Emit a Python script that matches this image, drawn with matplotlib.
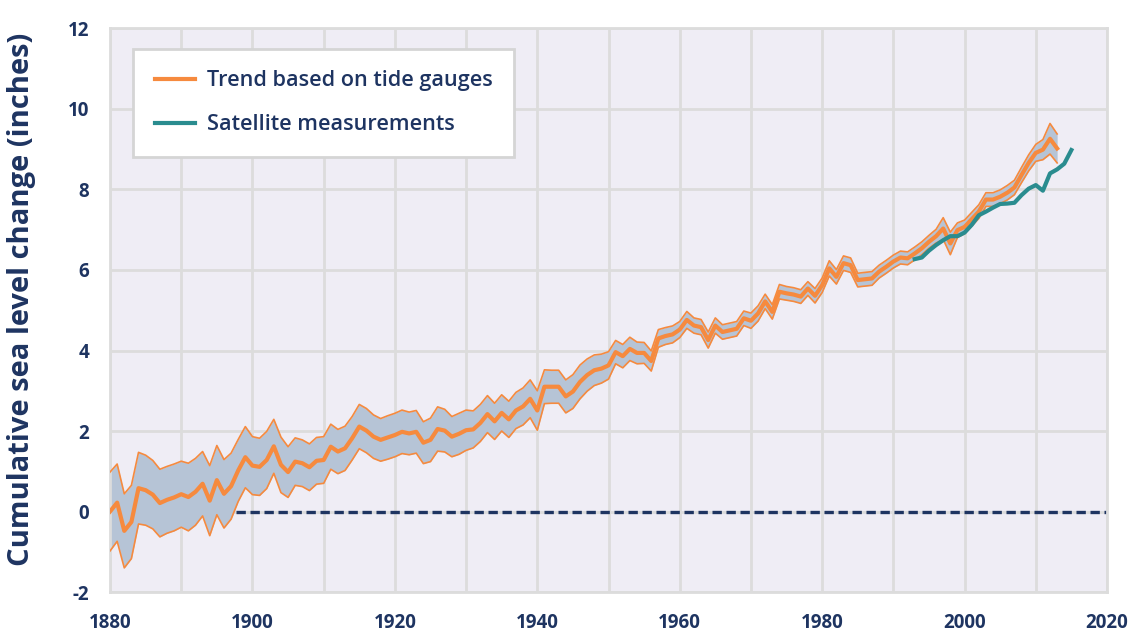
import numpy as np
import matplotlib
matplotlib.use("Agg")
import matplotlib.pyplot as plt
from matplotlib.lines import Line2D

# cumulative sea level change (inches), tide gauge trend 1880-2013
tide_years = list(range(1880, 2014))
tide_trend = [
    0.00, 0.22, -0.48, -0.26, 0.58, 0.53, 0.42, 0.21, 0.29, 0.35,
    0.43, 0.36, 0.49, 0.69, 0.27, 0.78, 0.44, 0.63, 1.02, 1.35,
    1.14, 1.11, 1.28, 1.62, 1.16, 0.98, 1.24, 1.20, 1.10, 1.26,
    1.28, 1.61, 1.49, 1.57, 1.82, 2.11, 2.01, 1.86, 1.78, 1.84,
    1.90, 1.98, 1.94, 1.98, 1.71, 1.78, 2.05, 2.01, 1.86, 1.93,
    2.02, 2.04, 2.20, 2.42, 2.24, 2.45, 2.29, 2.51, 2.61, 2.80,
    2.51, 3.10, 3.10, 3.10, 2.86, 2.98, 3.22, 3.39, 3.51, 3.55,
    3.63, 3.96, 3.86, 4.04, 3.94, 3.94, 3.74, 4.30, 4.36, 4.40,
    4.52, 4.76, 4.62, 4.58, 4.26, 4.62, 4.46, 4.50, 4.54, 4.80,
    4.74, 4.92, 5.22, 4.96, 5.46, 5.42, 5.39, 5.34, 5.54, 5.36,
    5.62, 6.04, 5.83, 6.17, 6.12, 5.75, 5.77, 5.79, 5.96, 6.08,
    6.21, 6.31, 6.29, 6.41, 6.54, 6.70, 6.84, 7.03, 6.66, 6.99,
    7.07, 7.26, 7.45, 7.75, 7.75, 7.82, 7.92, 8.05, 8.36, 8.66,
    8.91, 8.99, 9.26, 9.02,
]
# half width of the error band around the trend (inches)
tide_error = [
    0.98, 0.96, 0.92, 0.91, 0.89, 0.87, 0.85, 0.84, 0.83, 0.83,
    0.82, 0.84, 0.83, 0.80, 0.87, 0.86, 0.85, 0.82, 0.77, 0.76,
    0.72, 0.71, 0.71, 0.67, 0.69, 0.63, 0.59, 0.58, 0.58, 0.58,
    0.58, 0.56, 0.55, 0.55, 0.54, 0.55, 0.55, 0.54, 0.53, 0.54,
    0.54, 0.54, 0.53, 0.53, 0.52, 0.54, 0.55, 0.53, 0.50, 0.51,
    0.50, 0.46, 0.46, 0.46, 0.45, 0.45, 0.45, 0.45, 0.46, 0.47,
    0.49, 0.42, 0.41, 0.41, 0.41, 0.42, 0.42, 0.40, 0.38, 0.36,
    0.34, 0.29, 0.29, 0.29, 0.27, 0.26, 0.25, 0.22, 0.21, 0.21,
    0.20, 0.21, 0.19, 0.19, 0.20, 0.19, 0.18, 0.18, 0.18, 0.18,
    0.19, 0.19, 0.18, 0.18, 0.18, 0.17, 0.17, 0.17, 0.17, 0.18,
    0.18, 0.19, 0.18, 0.18, 0.18, 0.17, 0.17, 0.17, 0.16, 0.16,
    0.16, 0.16, 0.16, 0.16, 0.16, 0.16, 0.17, 0.27, 0.28, 0.18,
    0.17, 0.17, 0.17, 0.17, 0.17, 0.17, 0.18, 0.18, 0.19, 0.20,
    0.21, 0.25, 0.38, 0.36,
]

# satellite measurements 1993-2015
sat_years = list(range(1993, 2016))
sat_values = [
    6.27, 6.31, 6.48, 6.62, 6.74, 6.84, 6.84, 6.93, 7.12, 7.36,
    7.45, 7.55, 7.64, 7.65, 7.67, 7.86, 8.02, 8.11, 7.97, 8.40,
    8.50, 8.64, 8.98,
]

x_ticks = [1880, 1900, 1920, 1940, 1960, 1980, 2000, 2020]
y_ticks = [-2, 0, 2, 4, 6, 8, 10, 12]

orange = "#f68a3e"
teal = "#2a8c8f"
band = "#b6c4d6"
navy = "#1e3461"
grid_c = "#dcdcdc"

plt.rcParams["font.family"] = ["Open Sans", "DejaVu Sans"]
plt.rcParams["axes.unicode_minus"] = False

trend = np.array(tide_trend)
err = np.array(tide_error)
lower = trend - err
upper = trend + err

fig = plt.figure(figsize=(11.32, 6.37), dpi=100)
ax = fig.add_axes([0.0972, 0.0706, 0.8807, 0.8847])
ax.set_facecolor("#efedf5")

ax.axhline(0, color=navy, lw=2.4, dashes=(2.8, 1.4), zorder=1.5)
ax.fill_between(tide_years, lower, upper, color=band, lw=0, zorder=2)
ax.plot(tide_years, lower, color=orange, lw=1.2, zorder=3)
ax.plot(tide_years, upper, color=orange, lw=1.2, zorder=3)
ax.plot(tide_years, trend, color=orange, lw=3, zorder=4)
ax.plot(sat_years, sat_values, color=teal, lw=3, zorder=5)

ax.set_xlim(1880, 2020)
ax.set_ylim(-2, 12)
ax.set_xticks(x_ticks)
ax.set_xticks(range(1880, 2021, 10), minor=True)
ax.set_yticks(y_ticks)
ax.grid(True, which="both", color=grid_c, lw=2)
ax.set_axisbelow(True)
ax.tick_params(which="both", length=0)
ax.tick_params(axis="x", pad=15, labelsize=13.5, labelcolor=navy)
ax.tick_params(axis="y", pad=15, labelsize=13.5, labelcolor=navy)
for lab in ax.get_xticklabels() + ax.get_yticklabels():
    lab.set_fontweight("bold")
for s in ax.spines.values():
    s.set_color(grid_c)
    s.set_linewidth(2)

ax.set_ylabel("Cumulative sea level change (inches)", fontsize=21,
              fontweight="bold", color=navy)
ax.yaxis.set_label_coords(-0.074, 0.52)

handles = [Line2D([], [], color=orange, lw=3),
           Line2D([], [], color=teal, lw=3)]
leg = ax.legend(handles, ["Trend based on tide gauges", "Satellite measurements"],
                loc="upper left", bbox_to_anchor=(0.023, 0.964), borderaxespad=0,
                fancybox=False, framealpha=1, edgecolor="#d5d5d5",
                prop={"size": 15.6, "weight": "semibold"},
                handlelength=1.85, handletextpad=0.55, labelspacing=1.05,
                borderpad=1.0)
leg.get_frame().set_linewidth(2)
for t in leg.get_texts():
    t.set_color(navy)

fig.savefig("out.png", dpi=100)
